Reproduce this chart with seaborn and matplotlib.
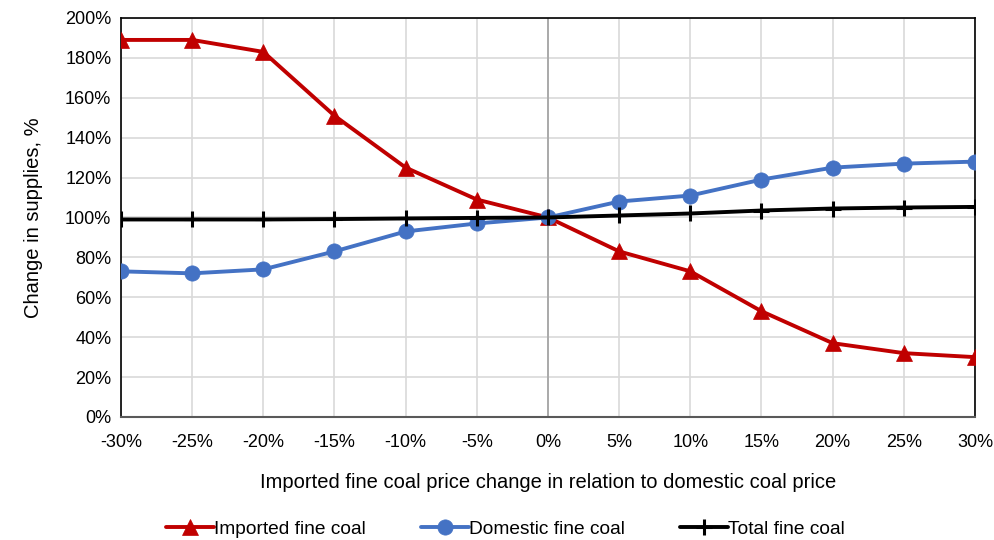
import pandas as pd
import numpy as np
import matplotlib.pyplot as plt
import matplotlib.ticker as mtick
import seaborn as sns

# -------------------------------------------------
# Datos
# -------------------------------------------------
cambio_precio = [-30, -25, -20, -15, -10, -5, 0, 5, 10, 15, 20, 25, 30]
importado = [189, 189, 183, 151, 125, 109, 100, 83, 73, 53, 37, 32, 30]
domestico = [73, 72, 74, 83, 93, 97, 100, 108, 111, 119, 125, 127, 128]
total = [99, 99, 99, 99.2, 99.5, 99.8, 100, 101, 102, 103.5, 104.5, 105, 105.3]

series = ["Imported fine coal", "Domestic fine coal", "Total fine coal"]
colores = {"Imported fine coal": "#c00000",
           "Domestic fine coal": "#4472c4",
           "Total fine coal": "#000000"}
marcadores = {"Imported fine coal": "^",
              "Domestic fine coal": "o",
              "Total fine coal": "+"}

df = pd.DataFrame({
    "x": cambio_precio * 3,
    "y": importado + domestico + total,
    "serie": np.repeat(series, len(cambio_precio)),
})

# -------------------------------------------------
# Figura
# -------------------------------------------------
sns.set_style("white")
plt.rcParams["font.family"] = ["Liberation Sans", "DejaVu Sans"]
plt.rcParams["text.color"] = "#000000"
plt.rcParams["axes.labelcolor"] = "#000000"

fig = plt.figure(figsize=(9.95, 5.4), dpi=100)
ax = fig.add_axes([0.1216, 0.2278, 0.8583, 0.7389])

ax.grid(True, color="#d9d9d9", linewidth=1.2, zorder=0)
ax.axvline(0, color="#a6a6a6", linewidth=1.3, zorder=1)

for s in series:
    sub = df[df["serie"] == s]
    es_total = s == "Total fine coal"
    sns.lineplot(data=sub, x="x", y="y", ax=ax, color=colores[s],
                 linewidth=2.8, marker=marcadores[s],
                 markersize=12 if es_total else 11,
                 markeredgewidth=2.2 if es_total else 0.5,
                 markeredgecolor=colores[s], label=s, zorder=3, legend=False)

ax.set_xlim(-30, 30)
ax.set_ylim(0, 200)
ax.set_xticks(cambio_precio)
ax.set_yticks(range(0, 201, 20))
ax.xaxis.set_major_formatter(mtick.FuncFormatter(lambda v, p: f"{v:.0f}%"))
ax.yaxis.set_major_formatter(mtick.FuncFormatter(lambda v, p: f"{v:.0f}%"))
ax.tick_params(axis="both", labelsize=13, length=0, colors="#000000")
ax.tick_params(axis="x", pad=12)
ax.tick_params(axis="y", pad=7)

for lado in ["left", "top", "right"]:
    ax.spines[lado].set_color("#000000")
    ax.spines[lado].set_linewidth(1.2)
ax.spines["bottom"].set_color("#595959")
ax.spines["bottom"].set_linewidth(1.5)

ax.set_xlabel("Imported fine coal price change in relation to domestic coal price",
              fontsize=14.5, labelpad=16)
ax.set_ylabel("Change in supplies, %", fontsize=14.5, labelpad=16)

lineas = [h for h in ax.get_lines() if h.get_label() in series]
fig.legend(lineas, series, loc="center", bbox_to_anchor=(0.508, 0.02), ncol=3,
           frameon=False, fontsize=13.8, handlelength=2.5, columnspacing=2.9,
           handletextpad=0.0, borderaxespad=0, borderpad=0)

fig.savefig("out.png", dpi=100)
